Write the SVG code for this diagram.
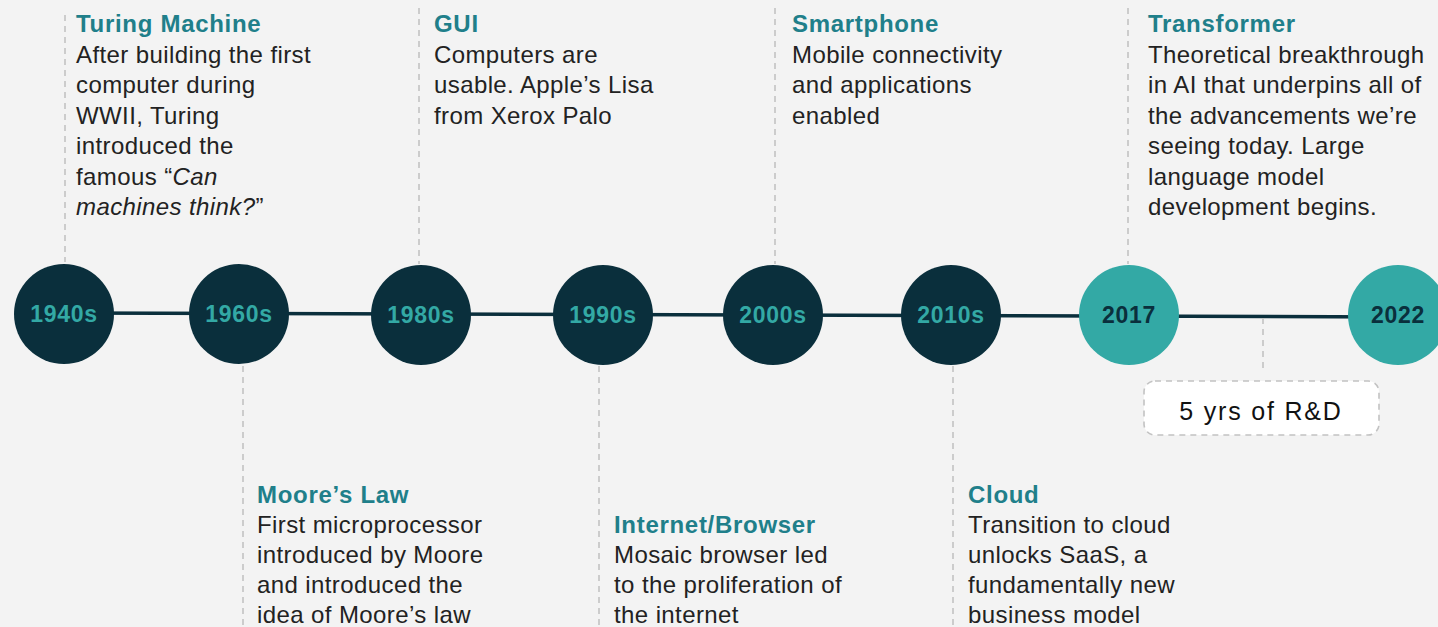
<svg xmlns="http://www.w3.org/2000/svg" width="1438" height="627" viewBox="0 0 1438 627">
<style>
.bg{fill:#f3f3f3}
.dash{stroke:#c2c2c2;stroke-width:1.6;stroke-dasharray:6 5;fill:none}
.axis{stroke:#0a2f3c;stroke-width:3.5;fill:none}
.dark{fill:#0a2f3c}
.teal{fill:#33a9a5}
.yl{font-family:"Liberation Sans",Arial,sans-serif;font-weight:700;font-size:23px;letter-spacing:0.7px;text-anchor:middle}
.yl.ondark{fill:#33a9a5}
.yl.onteal{fill:#0a2f3c}
.title{font-family:"Liberation Sans",Arial,sans-serif;font-weight:700;font-size:24px;fill:#207f8a;letter-spacing:0.7px}
.body{font-family:"Liberation Sans",Arial,sans-serif;font-size:24px;fill:#222222;letter-spacing:0.4px}
.rd{font-family:"Liberation Sans",Arial,sans-serif;font-size:25px;fill:#111111;letter-spacing:1.8px;text-anchor:middle}
</style>
<rect class="bg" x="0" y="0" width="1438" height="627"/>
<g id="connectors">
<line class="axis" x1="64" y1="313" x2="1398" y2="317"/>
<line class="dash" x1="65" y1="15" x2="65" y2="262"/>
<line class="dash" x1="243" y1="366" x2="243" y2="627"/>
<line class="dash" x1="419" y1="8" x2="419" y2="264"/>
<line class="dash" x1="599" y1="366" x2="599" y2="627"/>
<line class="dash" x1="775" y1="8" x2="775" y2="264"/>
<line class="dash" x1="953" y1="366" x2="953" y2="627"/>
<line class="dash" x1="1128" y1="8" x2="1128" y2="264"/>
<line class="dash" x1="1263" y1="318" x2="1263" y2="368"/>
</g>
<g id="n1940s"><circle class="dark" cx="64" cy="314" r="50"/><text class="yl ondark" x="64" y="322">1940s</text></g>
<g id="n1960s"><circle class="dark" cx="239" cy="314" r="50"/><text class="yl ondark" x="239" y="322">1960s</text></g>
<g id="n1980s"><circle class="dark" cx="421" cy="315" r="50"/><text class="yl ondark" x="421" y="323">1980s</text></g>
<g id="n1990s"><circle class="dark" cx="603" cy="315" r="50"/><text class="yl ondark" x="603" y="323">1990s</text></g>
<g id="n2000s"><circle class="dark" cx="773" cy="315" r="50"/><text class="yl ondark" x="773" y="323">2000s</text></g>
<g id="n2010s"><circle class="dark" cx="951" cy="315" r="50"/><text class="yl ondark" x="951" y="323">2010s</text></g>
<g id="n2017"><circle class="teal" cx="1129" cy="315" r="50"/><text class="yl onteal" x="1129" y="323">2017</text></g>
<g id="n2022"><circle class="teal" cx="1398" cy="315" r="50"/><text class="yl onteal" x="1398" y="323">2022</text></g>
<g id="turing">
<text class="title" x="76" y="32">Turing Machine</text>
<text class="body" x="76" y="62.5">After building the first</text>
<text class="body" x="76" y="93">computer during</text>
<text class="body" x="76" y="123.5">WWII, Turing</text>
<text class="body" x="76" y="154">introduced the</text>
<text class="body" x="76" y="184.5">famous “<tspan font-style="italic">Can</tspan></text>
<text class="body" x="76" y="215"><tspan font-style="italic">machines think?</tspan>”</text>
</g>
<g id="moore">
<text class="title" x="257" y="503">Moore’s Law</text>
<text class="body" x="257" y="533">First microprocessor</text>
<text class="body" x="257" y="563">introduced by Moore</text>
<text class="body" x="257" y="593">and introduced the</text>
<text class="body" x="257" y="623">idea of Moore’s law</text>
</g>
<g id="gui">
<text class="title" x="434" y="32">GUI</text>
<text class="body" x="434" y="62.5">Computers are</text>
<text class="body" x="434" y="93">usable. Apple’s Lisa</text>
<text class="body" x="434" y="123.5">from Xerox Palo</text>
</g>
<g id="internet">
<text class="title" x="614" y="533">Internet/Browser</text>
<text class="body" x="614" y="563">Mosaic browser led</text>
<text class="body" x="614" y="593">to the proliferation of</text>
<text class="body" x="614" y="623">the internet</text>
</g>
<g id="smartphone">
<text class="title" x="792" y="32">Smartphone</text>
<text class="body" x="792" y="62.5">Mobile connectivity</text>
<text class="body" x="792" y="93">and applications</text>
<text class="body" x="792" y="123.5">enabled</text>
</g>
<g id="cloud">
<text class="title" x="968" y="503">Cloud</text>
<text class="body" x="968" y="533">Transition to cloud</text>
<text class="body" x="968" y="563">unlocks SaaS, a</text>
<text class="body" x="968" y="593">fundamentally new</text>
<text class="body" x="968" y="623">business model</text>
</g>
<g id="transformer">
<text class="title" x="1148" y="32">Transformer</text>
<text class="body" x="1148" y="62.5">Theoretical breakthrough</text>
<text class="body" x="1148" y="93">in AI that underpins all of</text>
<text class="body" x="1148" y="123.5">the advancements we’re</text>
<text class="body" x="1148" y="154">seeing today. Large</text>
<text class="body" x="1148" y="184.5">language model</text>
<text class="body" x="1148" y="215">development begins.</text>
</g>
<g id="rd">
<rect x="1144" y="381" width="235" height="54" rx="11" fill="#ffffff" stroke="#c2c2c2" stroke-width="1.6" stroke-dasharray="6 5"/>
<text class="rd" x="1261" y="420">5 yrs of R&amp;D</text>
</g>
</svg>
